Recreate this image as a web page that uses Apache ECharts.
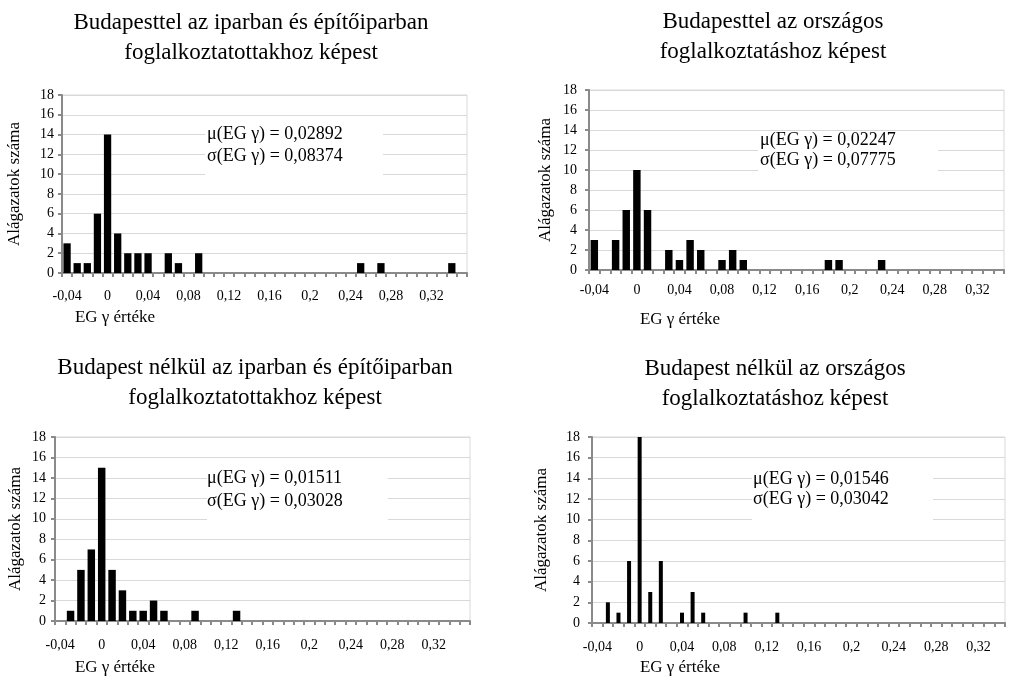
<!DOCTYPE html>
<html>
<head>
<meta charset="utf-8">
<title>EG gamma eloszlások</title>
<script src="https://cdn.jsdelivr.net/npm/echarts@6/dist/echarts.min.js"></script>
<style>
  html, body { margin: 0; padding: 0; background: #fff; }
  #chart { width: 1014px; height: 683px; }
</style>
</head>
<body>
<div id="chart"></div>
<script>
// kategóriák (EG γ értékek, 0,01-es lépésközzel)
var categories = ['-0,04','-0,03','-0,02','-0,01','0','0,01','0,02','0,03','0,04','0,05',
                  '0,06','0,07','0,08','0,09','0,1','0,11','0,12','0,13','0,14','0,15',
                  '0,16','0,17','0,18','0,19','0,2','0,21','0,22','0,23','0,24','0,25',
                  '0,26','0,27','0,28','0,29','0,3','0,31','0,32','0,33','0,34','0,35'];
var categoriesShort = categories.slice(0, 39);

// alágazatok száma kategóriánként
var budIpar  = [3,1,1,6,14,4,2,2,2,0, 2,1,0,2,0,0,0,0,0,0, 0,0,0,0,0,0,0,0,0,1, 0,1,0,0,0,0,0,0,1,0];
var budOrsz  = [3,0,3,6,10,6,0,2,1,3, 2,0,1,2,1,0,0,0,0,0, 0,0,1,1,0,0,0,1,0,0, 0,0,0,0,0,0,0,0,0];
var nelkIpar = [0,1,5,7,15,5,3,1,1,2, 1,0,0,1,0,0,0,1,0,0, 0,0,0,0,0,0,0,0,0,0, 0,0,0,0,0,0,0,0,0,0];
var nelkOrsz = [0,2,1,6,18,3,6,0,1,3, 1,0,0,0,1,0,0,1,0,0, 0,0,0,0,0,0,0,0,0,0, 0,0,0,0,0,0,0,0,0];

var yTicks = [0, 18, 2]; // min, max, lépésköz

var titles = [
    'Budapesttel az iparban és építőiparban\nfoglalkoztatottakhoz képest',
    'Budapesttel az országos\nfoglalkoztatáshoz képest',
    'Budapest nélkül az iparban és építőiparban\nfoglalkoztatottakhoz képest',
    'Budapest nélkül az országos\nfoglalkoztatáshoz képest'
];
var stats = [
    ['μ(EG γ) = 0,02892', 'σ(EG γ) = 0,08374'],
    ['μ(EG γ) = 0,02247', 'σ(EG γ) = 0,07775'],
    ['μ(EG γ) = 0,01511', 'σ(EG γ) = 0,03028'],
    ['μ(EG γ) = 0,01546', 'σ(EG γ) = 0,03042']
];

var FONT = '"Liberation Serif", "Times New Roman", serif';
var AXIS = '#8a8a8a';

// panelek elrendezése
var panels = [
    {cats: categories, data: budIpar, grid: {left: 62, top: 95, width: 405, height: 178},
     nameGap: 39, xMargin: 16, yMargin: 8, bar: {barCategoryGap: '28%'},
     title: [251, 38], xName: [115, 318], box: [205, 118, 178, 64], txt: [207, 134, 156]},
    {cats: categoriesShort, data: budOrsz, grid: {left: 589, top: 90, width: 415, height: 180},
     nameGap: 35, xMargin: 13, yMargin: 12, bar: {barCategoryGap: '30%'},
     title: [773, 37], xName: [680, 320], box: [758, 133, 180, 44], txt: [760, 140, 160]},
    {cats: categories, data: nelkIpar, grid: {left: 55, top: 437, width: 415, height: 184},
     nameGap: 31, xMargin: 17, yMargin: 9, bar: {barCategoryGap: '28%'},
     title: [255, 383], xName: [115, 668], box: [207, 463, 181, 64], txt: [207, 478, 501]},
    {cats: categoriesShort, data: nelkOrsz, grid: {left: 592, top: 437, width: 413, height: 186},
     nameGap: 42, xMargin: 17, yMargin: 12, bar: {barWidth: 4},
     title: [775, 384], xName: [680, 668], box: [752, 463, 181, 64], txt: [753, 479, 499]}
];

var grids = [], xAxes = [], yAxes = [], series = [], graphics = [];
panels.forEach(function (p, i) {
    grids.push(Object.assign({show: true, borderColor: '#d9d9d9', borderWidth: 1}, p.grid));
    xAxes.push({
        type: 'category', gridIndex: i, data: p.cats,
        axisLine: {lineStyle: {color: AXIS, width: 2}},
        axisTick: {show: true, interval: 0, length: 4, lineStyle: {color: AXIS, width: 2}},
        axisLabel: {interval: 3, color: '#000', fontFamily: FONT, fontSize: 14, margin: p.xMargin},
        splitLine: {show: false}
    });
    yAxes.push({
        type: 'value', gridIndex: i, min: yTicks[0], max: yTicks[1], interval: yTicks[2],
        name: 'Alágazatok száma', nameLocation: 'middle', nameGap: p.nameGap,
        nameTextStyle: {color: '#000', fontFamily: FONT, fontSize: 17},
        axisLine: {show: true, lineStyle: {color: AXIS, width: 2}},
        axisTick: {show: true, length: 4, lineStyle: {color: AXIS, width: 2}},
        axisLabel: {color: '#000', fontFamily: FONT, fontSize: 14, margin: p.yMargin},
        splitLine: {lineStyle: {color: '#d9d9d9', width: 1}}
    });
    series.push(Object.assign({
        type: 'bar', xAxisIndex: i, yAxisIndex: i, data: p.data,
        itemStyle: {color: '#000'}, silent: true, animation: false
    }, p.bar));

    graphics.push({
        type: 'text', x: p.title[0], y: p.title[1],
        style: {text: titles[i], font: '23px ' + FONT, fill: '#000',
                textAlign: 'center', textVerticalAlign: 'middle', lineHeight: 30}
    });
    graphics.push({
        type: 'text', x: p.xName[0], y: p.xName[1],
        style: {text: 'EG γ értéke', font: '17px ' + FONT, fill: '#000',
                textAlign: 'center', textVerticalAlign: 'middle'}
    });
    graphics.push({
        type: 'rect', z: 50,
        shape: {x: p.box[0], y: p.box[1], width: p.box[2], height: p.box[3]},
        style: {fill: '#fff'}
    });
    graphics.push({
        type: 'text', z: 51, x: p.txt[0], y: p.txt[1],
        style: {text: stats[i][0], font: '18px ' + FONT, fill: '#000', textVerticalAlign: 'middle'}
    });
    graphics.push({
        type: 'text', z: 51, x: p.txt[0], y: p.txt[2],
        style: {text: stats[i][1], font: '18px ' + FONT, fill: '#000', textVerticalAlign: 'middle'}
    });
});

var myChart = echarts.init(document.getElementById('chart'));
myChart.setOption({
    animation: false,
    grid: grids,
    xAxis: xAxes,
    yAxis: yAxes,
    series: series,
    graphic: graphics
});
</script>
</body>
</html>
